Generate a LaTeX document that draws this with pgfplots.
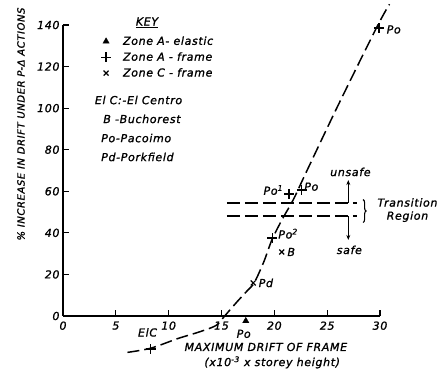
\documentclass[border=0pt]{standalone}
\usepackage{fontspec}
\setmainfont{DejaVu Sans}[LetterSpace=6, FakeBold=1.2]
\usepackage{pgfplots}
\pgfplotsset{compat=1.18}
\usetikzlibrary{decorations.pathreplacing,arrows.meta}
\newcommand{\hf}{\itshape\fontsize{11}{13}\selectfont}
\begin{document}
\begin{tikzpicture}[font=\hf]
\useasboundingbox (-63pt,-53pt) rectangle (384pt,316pt);
\begin{axis}[
  at={(0,0)}, anchor=south west,
  scale only axis, width=317pt, height=291pt,
  xmin=0, xmax=30, ymin=0, ymax=140,
  axis lines=left, axis line style={-, line width=1.6pt},
  clip=false,
  xtick={0,5,...,30}, ytick={0,20,...,140},
  tick align=inside, major tick length=6pt,
  tick style={line width=1.2pt, black},
  tick label style={font=\itshape\fontsize{11}{13}\selectfont},
  xticklabel style={yshift=-2pt},
  /pgf/number format/assume math mode=true,
  legend style={at={(axis cs:3.3,136.5)}, anchor=north west, draw=none, fill=none,
    font=\hf, row sep=2pt, legend cell align=left},
  legend image code/.code={\draw[mark repeat=2,mark phase=2,#1] plot coordinates {(0cm,0cm) (0.2cm,0cm) (0.4cm,0cm)};},
]
% Zone A - elastic
\addplot[only marks, mark=triangle*, mark size=3.6pt, black] coordinates {(17.3,-2.4)};
\addlegendentry{\hspace{10pt}Zone A- elastic}
% Zone A - frame
\addplot[only marks, mark=+, mark size=5pt, black, mark options={line width=1.3pt}] coordinates {
  (8.3,-15.9) (19.8,37.5) (21.4,58.7) (22.6,60.6) (29.9,138.5)};
\addlegendentry{\hspace{10pt}Zone A - frame}
% Zone C - frame
\addplot[only marks, mark=x, mark size=3.5pt, black, mark options={line width=1.2pt}] coordinates {
  (20.7,30.8) (18.0,15.9)};
\addlegendentry{\hspace{10pt}Zone C - frame}
% curve
\addplot[forget plot, smooth, tension=0.5, line width=1.5pt, dash pattern=on 12pt off 5pt, black] coordinates {
  (6.1,-17.5) (8.3,-15.5) (10.9,-10.8) (13,-7.5) (14.5,-4.5) (15.3,0) (16.5,7) (17.5,12.5)
  (18.1,16) (19,26) (19.8,37) (20.8,47) (21.8,56) (23,69) (26,101) (29.7,139) (30.9,150)};
% transition lines
\addplot[forget plot, line width=1.3pt, dash pattern=on 13pt off 5pt, black] coordinates {(15.5,54.4) (27.8,54.4)};
\addplot[forget plot, line width=1.3pt, dash pattern=on 13pt off 5pt, black] coordinates {(15.5,48.1) (27.8,48.1)};
\draw[line width=1.1pt, -{Stealth[length=5pt,width=4pt]}] (axis cs:27,54.4) -- (axis cs:27,65.4);
\draw[line width=1.1pt, -{Stealth[length=5pt,width=4pt]}] (axis cs:27,48.1) -- (axis cs:27,36.6);
\draw[line width=1.1pt, decorate, decoration={brace, amplitude=3pt}] (axis cs:28.4,56) -- (axis cs:28.4,45);
\node at (axis cs:27.2,69.3) {unsafe};
\node at (axis cs:27.1,31.8) {safe};
\node at (axis cs:32.6,54.6) {Transition};
\node at (axis cs:32.6,47.8) {Region};
% point labels
\node at (axis cs:31.3,137.8) {Po};
\node at (axis cs:19.9,60.6) {Po\textsuperscript{1}};
\node at (axis cs:23.5,62.2) {Po};
\node at (axis cs:21.3,39.6) {Po\textsuperscript{2}};
\node at (axis cs:21.6,30.8) {B};
\node at (axis cs:19.2,15.9) {Pd};
\node at (axis cs:17.1,-8.6) {Po};
\node at (axis cs:8.0,-7.9) {ElC};
% key
\node at (axis cs:7.95,141.2) {\underline{KEY}};
\node[anchor=west, inner sep=0pt] at (axis cs:3.0,103.9) {El C:-El Centro};
\node[anchor=west, inner sep=0pt] at (axis cs:3.8,94.8) {B -Buchorest};
\node[anchor=west, inner sep=0pt] at (axis cs:3.6,85.6) {Po-Pacoimo};
\node[anchor=west, inner sep=0pt] at (axis cs:3.6,76.5) {Pd-Porkfield};
% x label
\node at (axis cs:19.2,-14.9) {MAXIMUM DRIFT OF FRAME};
\node at (axis cs:19.8,-22.3) {(x10\textsuperscript{-3} x storey height)};
\end{axis}
\node[rotate=90, font=\itshape\fontsize{10}{12}\selectfont] at (-42pt,192pt) {\% INCREASE IN DRIFT UNDER P-Δ ACTIONS};
\end{tikzpicture}
\end{document}
